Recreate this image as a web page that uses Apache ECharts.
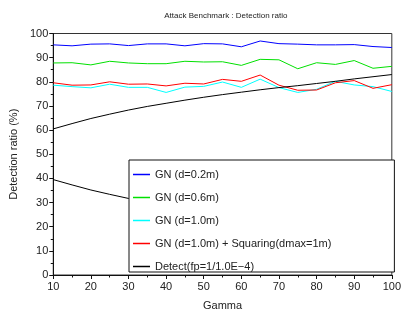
<!DOCTYPE html>
<html>
<head>
<meta charset="utf-8">
<script src="https://cdn.jsdelivr.net/npm/echarts@6/dist/echarts.min.js"></script>
<style>
  html, body { margin: 0; padding: 0; background: #fff; }
  #main { width: 404px; height: 316px; }
</style>
</head>
<body>
<div id="main"></div>
<script>
// gamma values on the x axis
var gamma = [10, 15, 20, 25, 30, 35, 40, 45, 50, 55, 60, 65, 70, 75, 80, 85, 90, 95, 100];

// detection ratios (%)
var gn02 = [95.3, 94.9, 95.6, 95.7, 95.0, 95.7, 95.7, 94.9, 95.8, 95.7, 94.5, 96.9, 95.8, 95.6, 95.3, 95.3, 95.4, 94.6, 94.2];
var gn06 = [87.8, 87.9, 87.0, 88.5, 87.8, 87.5, 87.5, 88.5, 88.2, 88.3, 86.8, 89.3, 89.1, 85.4, 87.9, 87.2, 88.8, 85.6, 86.4];
var gn10 = [78.6, 78.0, 77.5, 79.0, 77.7, 77.7, 75.6, 77.8, 78.1, 79.9, 77.7, 81.1, 77.6, 75.6, 76.9, 80.2, 78.7, 78.0, 76.0];
var gnSq = [79.6, 78.6, 78.7, 80.0, 79.0, 79.1, 78.3, 79.4, 79.1, 81.0, 80.2, 82.8, 78.6, 76.5, 76.6, 79.6, 80.5, 77.3, 78.8];
var detectHi = [60.5, 62.7, 64.8, 66.6, 68.3, 69.8, 71.1, 72.4, 73.6, 74.7, 75.7, 76.7, 77.6, 78.4, 79.3, 80.2, 81.2, 82.1, 83.0];
var detectLo = [39.5, 37.3, 35.2, 33.4, 31.7, 30.2, 28.9, 27.6, 26.4, 25.3, 24.3, 23.3, 22.4, 21.6, 20.7, 19.8, 18.8, 17.9, 17.0];

var names = ['GN (d=0.2m)', 'GN (d=0.6m)', 'GN (d=1.0m)', 'GN (d=1.0m) + Squaring(dmax=1m)', 'Detect(fp=1/1.0E\u22124)'];

function pairs(ys) {
  return gamma.map(function (g, i) { return [g, ys[i]]; });
}

function line(name, ys, color) {
  return {
    name: name,
    type: 'line',
    data: pairs(ys),
    showSymbol: false,
    symbol: 'none',
    lineStyle: { color: color, width: 1 },
    itemStyle: { color: color },
    animation: false
  };
}

var font = 'Liberation Sans, Arial, sans-serif';
var myChart = echarts.init(document.getElementById('main'));

var option = {
  animation: false,
  title: {
    text: 'Attack Benchmark : Detection ratio',
    left: 220.8,
    textAlign: 'center',
    top: 7,
    textStyle: { fontSize: 8, fontWeight: 'normal', color: '#222', fontFamily: font }
  },
  grid: {
    left: 48.3, right: 10.7, top: 33.5, bottom: 37.7,
    show: true, borderColor: '#333', borderWidth: 1
  },
  legend: {
    orient: 'vertical',
    left: 129, top: 160,
    data: names,
    icon: 'rect',
    itemWidth: 17, itemHeight: 1.5,
    itemGap: 12,
    padding: [9, 63, 0, 4],
    backgroundColor: '#fff',
    borderColor: '#111', borderWidth: 1,
    textStyle: { fontSize: 11, color: '#222', fontFamily: font },
    z: 10
  },
  xAxis: {
    type: 'value',
    min: 10, max: 100, interval: 10,
    name: 'Gamma',
    nameLocation: 'middle',
    nameGap: 25,
    nameTextStyle: { fontSize: 11, color: '#222', fontFamily: font },
    axisLine: { lineStyle: { color: '#111', width: 1 } },
    axisTick: { show: true, inside: false, length: 4, lineStyle: { color: '#111' } },
    minorTick: { show: true, splitNumber: 2, length: 2.5, lineStyle: { color: '#111' } },
    splitLine: { show: false },
    axisLabel: { fontSize: 11, color: '#222', margin: 6, fontFamily: font }
  },
  yAxis: {
    type: 'value',
    min: 0, max: 100, interval: 10,
    name: 'Detection ratio (%)',
    nameLocation: 'middle',
    nameGap: 30,
    nameTextStyle: { fontSize: 11, color: '#222', fontFamily: font },
    axisLine: { show: true, lineStyle: { color: '#111', width: 1 } },
    axisTick: { show: true, inside: false, length: 4, lineStyle: { color: '#111' } },
    minorTick: { show: true, splitNumber: 2, length: 2.5, lineStyle: { color: '#111' } },
    splitLine: { show: false },
    axisLabel: { fontSize: 11, color: '#222', margin: 5, fontFamily: font }
  },
  series: [
    line(names[0], gn02, '#0000ff'),
    line(names[1], gn06, '#00e000'),
    line(names[2], gn10, '#00ffff'),
    line(names[3], gnSq, '#ff0000'),
    line(names[4], detectHi, '#000000'),
    line(names[4], detectLo, '#000000')
  ]
};

// draw the chart
myChart.setOption(option);
</script>
</body>
</html>
